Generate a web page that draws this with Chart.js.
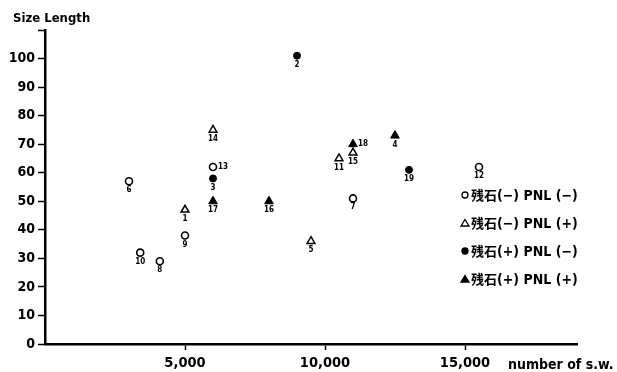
<!DOCTYPE html>
<html>
<head>
<meta charset="utf-8">
<script src="https://cdn.jsdelivr.net/npm/chart.js@4"></script>
<style>
  html, body { margin: 0; padding: 0; background: #fff; }
  #wrap { width: 617px; height: 372px; }
</style>
</head>
<body>
<div id="wrap"><canvas id="chart" width="617" height="372"></canvas></div>
<script>
// series: 残石(-) PNL(-)  open circle
const openCircleIds = [6, 10, 8, 9, 13, 7, 12];
const openCircleX = [3000, 3400, 4100, 5000, 6000, 11000, 15500];
const openCircleY = [57, 32, 29, 38, 62, 51, 62];

// series: 残石(-) PNL(+)  open triangle
const openTriIds = [1, 14, 5, 11, 15];
const openTriX = [5000, 6000, 9500, 10500, 11000];
const openTriY = [47, 75, 36, 65, 67];

// series: 残石(+) PNL(-)  filled circle
const fillCircleIds = [3, 2, 19];
const fillCircleX = [6000, 9000, 13000];
const fillCircleY = [58, 101, 61];

// series: 残石(+) PNL(+)  filled triangle
const fillTriIds = [17, 16, 18, 4];
const fillTriX = [6000, 8000, 11000, 12500];
const fillTriY = [50, 50, 70, 73];

const seriesNames = ['残石(−) PNL (−)', '残石(−) PNL (+)', '残石(+) PNL (−)', '残石(+) PNL (+)'];
const xTickValues = [5000, 10000, 15000];
const xTickLabels = ['5,000', '10,000', '15,000'];
const yTickValues = [0, 10, 20, 30, 40, 50, 60, 70, 80, 90, 100, 110];
const yTickLabels = ['0', '10', '20', '30', '40', '50', '60', '70', '80', '90', '100', ''];
const yTitle = 'Size Length';
const xTitle = 'number of s.w.';

const FONT = "'DejaVu Sans Condensed', 'DejaVu Sans', sans-serif";
const CJK = "'Noto Sans CJK JP', sans-serif";

function pts(xs, ys) {
  return xs.map((x, i) => ({ x, y: ys[i] }));
}

const datasets = [
  { label: seriesNames[0], data: pts(openCircleX, openCircleY), ids: openCircleIds,
    pointStyle: 'circle', pointRadius: 3.5, backgroundColor: '#fff', borderColor: '#000', borderWidth: 1.6 },
  { label: seriesNames[1], data: pts(openTriX, openTriY), ids: openTriIds,
    pointStyle: 'triangle', pointRadius: 4.5, backgroundColor: '#fff', borderColor: '#000', borderWidth: 1.5 },
  { label: seriesNames[2], data: pts(fillCircleX, fillCircleY), ids: fillCircleIds,
    pointStyle: 'circle', pointRadius: 3.5, backgroundColor: '#000', borderColor: '#000', borderWidth: 1 },
  { label: seriesNames[3], data: pts(fillTriX, fillTriY), ids: fillTriIds,
    pointStyle: 'triangle', pointRadius: 5, backgroundColor: '#000', borderColor: '#000', borderWidth: 1 }
];

// numbers next to each point; most sit below, a couple sit on the right
const sideLabels = [13, 18];
const pointLabels = {
  id: 'pointLabels',
  afterDatasetsDraw(chart) {
    const ctx = chart.ctx;
    ctx.save();
    ctx.fillStyle = '#000';
    ctx.font = "bold 8px " + FONT;
    chart.data.datasets.forEach((ds, di) => {
      chart.getDatasetMeta(di).data.forEach((el, i) => {
        const id = ds.ids[i];
        if (sideLabels.includes(id)) {
          ctx.textAlign = 'left';
          ctx.textBaseline = 'middle';
          ctx.fillText(String(id), el.x + 5, el.y);
        } else {
          ctx.textAlign = 'center';
          ctx.textBaseline = 'top';
          ctx.fillText(String(id), el.x, el.y + 5);
        }
      });
    });
    ctx.restore();
  }
};

// legend + axis titles drawn by hand
const extras = {
  id: 'extras',
  afterDraw(chart) {
    const ctx = chart.ctx;
    ctx.save();
    ctx.fillStyle = '#000';
    ctx.textBaseline = 'alphabetic';
    ctx.textAlign = 'left';
    ctx.font = "bold 13px " + FONT;
    ctx.fillText(yTitle, 13, 22);
    ctx.font = "bold 14px " + FONT;
    ctx.fillText(xTitle, 508, 369);

    const rowY = [195, 223, 251, 279];
    chart.data.datasets.forEach((ds, i) => {
      const y = rowY[i];
      ctx.fillStyle = ds.backgroundColor;
      ctx.strokeStyle = '#000';
      ctx.lineWidth = 1.3;
      ctx.beginPath();
      if (ds.pointStyle === 'circle') {
        ctx.arc(465, y, 3, 0, Math.PI * 2);
      } else {
        ctx.moveTo(465, y - 3.5);
        ctx.lineTo(469, y + 3);
        ctx.lineTo(461, y + 3);
        ctx.closePath();
      }
      ctx.fill();
      ctx.stroke();
      ctx.fillStyle = '#000';
      ctx.textBaseline = 'middle';
      ctx.font = "bold 13px " + CJK;
      ctx.fillText('残石', 471, y);
      ctx.font = "bold 14px " + FONT;
      ctx.fillText(ds.label.slice(2), 497, y + 1);
    });
    ctx.restore();
  }
};

new Chart(document.getElementById('chart'), {
  type: 'scatter',
  data: { datasets },
  options: {
    responsive: false,
    animation: false,
    layout: { padding: { left: 0, right: 40, top: 30, bottom: 0 } },
    plugins: { legend: { display: false }, tooltip: { enabled: false } },
    scales: {
      x: {
        type: 'linear',
        min: 0,
        max: 19000,
        afterBuildTicks: (s) => { s.ticks = xTickValues.map(v => ({ value: v })); },
        afterFit: (s) => { s.height = 28; },
        ticks: {
          autoSkip: false,
          maxRotation: 0,
          padding: 5,
          color: '#000',
          font: { family: FONT, size: 14.5, weight: 'bold' },
          callback: (v) => xTickLabels[xTickValues.indexOf(v)] ?? ''
        },
        grid: { drawOnChartArea: false, drawTicks: true, tickLength: 6, tickWidth: 1.5, color: '#000' },
        border: { display: true, color: '#000', width: 2.5 }
      },
      y: {
        type: 'linear',
        min: 0,
        max: 110,
        afterBuildTicks: (s) => { s.ticks = yTickValues.map(v => ({ value: v })); },
        afterFit: (s) => { s.width = 45; },
        ticks: {
          autoSkip: false,
          padding: 3,
          color: '#000',
          font: { family: FONT, size: 14, weight: 'bold' },
          callback: (v) => yTickLabels[yTickValues.indexOf(v)] ?? ''
        },
        grid: { drawOnChartArea: false, drawTicks: true, tickLength: 7, tickWidth: 1.5, color: '#000' },
        border: { display: true, color: '#000', width: 2.5 }
      }
    }
  },
  plugins: [pointLabels, extras]
});
</script>
</body>
</html>
